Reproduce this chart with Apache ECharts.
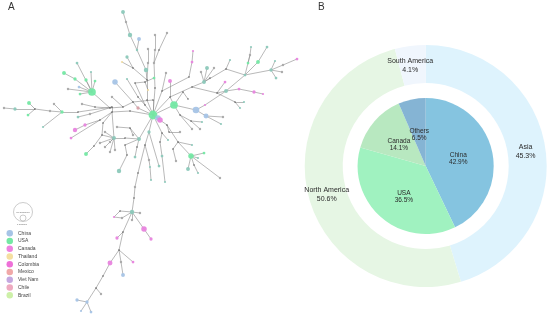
<!DOCTYPE html>
<html><head><meta charset="utf-8">
<style>html,body{margin:0;padding:0;background:#fff}#c{width:550px;height:318px}</style>
<script src="https://cdn.jsdelivr.net/npm/echarts@6/dist/echarts.min.js"></script>
</head><body><div id="c"></div>
<script>
// Pie values
const countryNames = ['China','USA','Canada','Others'];
const countryValues = [42.9,36.5,14.1,6.5];
const continentNames = ['Asia','North America','South America'];
const continentValues = [45.3,50.6,4.1];
// Network legend
const legendCountries = ['China','USA','Canada','Thailand','Colombia','Mexico','Viet Nam','Chile','Brazil'];
// Network branches: "x,y,kind,size" along each chain
const branches = [
"153,115,U,8 147,100,j 147,80,j 146,70,T,4 137,50,T 130,35,T,4 126,22,g 123,12,T,3.5",
"137,50 139,39,C,3.5","153,115 155,88,j 154,63,g 155,50,g 155,35,g",
"147,80 148,63,g 148,49,g","154,63 159,50,j 167,33,g","147,80 133,68,j 127,57,T,3","133,68 122,62,Y,2",
"153,115 138,108,M,3 133,102,j 115,82,C,5","153,115 145,105,j 138,97,j 127,79,T,2",
"145,105 135,83,j 145,82,j 154,78,U,2.5","145,82 148,90,Y,2","153,115 153,100,j 133,102 123,107,j 112,97,g",
"123,107 110,108,j 95,107,j 82,104,g","110,108 92,92,U,7",
"92,92 77,63,T,2.5","92,92 75,79,U,3","75,79 64,73,U,3.5","92,92 86,80,U,3","92,92 91,72,T,2","92,92 95,81,U,2.5",
"92,92 68,89,g","92,92 79,87,C,2.5","92,92 80,94,U,2.5",
"153,115 130,111,j 112,112,j 100,120,j 85,125,A,3 75,130,A,4","100,120 71,138,A,2.5",
"112,112 112,107,j 90,114,g 78,117,T,2.5","112,107 78,112,j 62,112,U,3 50,111,g 35,109,j 15,109,T,3 4,108,g",
"35,109 29,103,U,3.5","35,109 28,115,U,2.5","62,112 54,104,g","62,112 43,127,T,2",
"112,112 114,138,T,3.5","114,138 105,132,g","114,138 102,135,j 94,146,j 86,154,U,3.5","114,138 100,143,g",
"114,138 105,147,g","114,138 110,152,g","114,138 115,150,g","114,138 110,142,g",
"114,138 125,138,j 139,139,T,3.5 153,115","112,112 103,123,j 102,135","117,127,g 130,128,j 139,139","130,128 133,135,g",
"139,139 125,145,j 127,155,j 119,171,T,4","139,139 137,147,j 135,157,T,2.5",
"153,115 149,132,T,3 145,145,j 138,173,j 135,187,g 134,198,j 132,212,T,4",
"145,145 149,160,g 150,167,T,2 151,180,T,2","149,132 159,166,T,2.5",
"132,212 120,211,j 114,217,A,2 122,218,g 132,212","132,212 140,213,g","132,212 132,220,g","132,212 144,229,A,5 151,239,A,3",
"132,212 123,232,j 117,238,A,3","123,232 119,250,j 110,263,A,4.5 103,276,j 96,288,j 87,302,C,3","96,288 101,294,g",
"87,302 77,300,C,3","87,302 81,311,C,2","87,302 91,312,C,2.5","119,250 121,262,g 123,275,C,3.5","119,250 133,262,A,2.5",
"153,115 174,105,U,7","153,115 162,91,j 166,73,g","162,91 189,77,j 192,62,A,2.5 193,51,A,2","174,105 170,97,j 170,81,A,3.5",
"153,115 170,97 192,87,j 204,82,T,3.5 226,69,j 230,60,T,2","204,82 201,72,g","204,82 207,68,T,3.5","204,82 214,68,g","204,82 210,78,j",
"192,87 217,93,j 235,102,j 244,102,T,2","235,102 240,108,T,2","217,93 225,82,A,2.5",
"217,93 226,91,T,3.5 239,89,A,2.5 254,92,A,3 263,94,A,2",
"174,105 196,110,C,6 205,105,A,2 226,91 245,75,T,2.5 250,55,g 251,47,T,2","250,55 248,63,U,2.5","226,69 245,75",
"245,75 258,62,U,3.5 267,47,T,2.5","245,75 271,70,T,3 283,65,g 297,59,A,2.5","271,70 275,61,T,2","271,70 282,72,g","271,70 276,78,T,2.5",
"174,105 183,92,j 188,99,j","196,110 206,116,C,4.5 223,117,g","206,116 221,124,T,2",
"174,105 180,115,j 191,121,j 202,122,T,2","191,121 200,129,g","180,115 192,129,g",
"153,115 167,125,j 178,142,j 191,156,U,5 204,153,U,2.5","191,156 220,178,g","191,156 188,169,T,3.5","191,156 194,165,j 198,173,T,2","191,156 198,158,T,2",
"178,142 192,145,T,2","178,142 173,149,j 176,161,g","167,125 169,132,j 180,132,g","153,115 162,133,j 168,140,T,2","162,133 160,142,j 162,156,T,2.5 165,182,T,2",
"153,115 158,118,C,5","153,115 160,120,A,5"
];
const kindColors = {C:'#a6c4e6',U:'#74e8a4',A:'#e884de',Y:'#f0dca0',M:'#d8a0a8',T:'#8cc9bb',g:'#a9a9a9',j:'#3a3a3a'};
const kindNames = {C:'China',U:'USA',A:'Canada',Y:'Thailand',M:'Mexico',T:'Mixed',g:'Unknown',j:'Junction'};
const legendColors = ['#a6c4e6','#74e8a4','#ee82e0','#f5dfa0','#ee70d8','#f0a8a8','#c4a8e0','#eeaac0','#cdf0a8'];
// Small nudges of the pie labels, kept apart from the data
const outerNudge = [[-4,1],[2,0],[-2,4]];
const innerNudge = [[-3.5,1],[2,2],[1,3],[1,5]];

const nodeIndex = new Map(), nodes = [], links = [];
const parsed = branches.map(b => b.split(' ').map(p => p.split(',')));
parsed.flat().forEach(p => {
  const key = p[0]+','+p[1];
  if (!nodeIndex.has(key)) { nodeIndex.set(key, nodes.length); nodes.push({x:+p[0],y:+p[1],k:p[2],s:p[3]}); }
  else if (p[2] && !nodes[nodeIndex.get(key)].k) { const n=nodes[nodeIndex.get(key)]; n.k=p[2]; n.s=p[3]; }
});
parsed.forEach(ch => { for (let i=1;i<ch.length;i++) links.push({source:nodeIndex.get(ch[i-1][0]+','+ch[i-1][1]),target:nodeIndex.get(ch[i][0]+','+ch[i][1])}); });
const cats = legendCountries.map((n,i)=>({name:n,itemStyle:{color:legendColors[i]}}));
const catId = n => cats.findIndex(c=>c.name===n);
const font = '"Liberation Sans", Arial, sans-serif';
const chart = echarts.init(document.getElementById('c'),null,{renderer:'canvas'});
const sharedLabel = (lh,fs) => ({show:true,position:'inside',formatter:p=>p.name+'\n'+p.value.toFixed(1)+'%',fontFamily:font,fontSize:fs,color:'#2a2a2a',lineHeight:lh});
chart.setOption({
  animation:false,
  backgroundColor:'#fff',
  grid:{left:0,right:0,top:0,bottom:0},
  xAxis:{type:'value',min:0,max:550,show:false},
  yAxis:{type:'value',min:0,max:318,inverse:true,show:false},
  legend:{show:true,orient:'vertical',padding:0,left:6.5,top:230,itemWidth:6.5,itemHeight:6.5,itemGap:1.25,icon:'circle',selectedMode:false,
    data:legendCountries,textStyle:{fontFamily:font,fontSize:5,color:'#444'}},
  graphic:[
    {type:'text',left:8,top:2,style:{text:'A',font:'10px '+font,fill:'#333'}},
    {type:'text',left:318,top:2,style:{text:'B',font:'10px '+font,fill:'#333'}},
    {type:'circle',shape:{cx:23,cy:212,r:9.5},style:{fill:'#fff',stroke:'#aaa',lineWidth:.6}},
    {type:'circle',shape:{cx:23,cy:218,r:3},style:{fill:'#fff',stroke:'#aaa',lineWidth:.6}},
    {type:'text',x:23,y:212,style:{text:'50 samples',font:'2.5px '+font,fill:'#666',align:'center',verticalAlign:'middle'}},
    {type:'text',x:22,y:224,style:{text:'1 sample',font:'2.5px '+font,fill:'#666',align:'center',verticalAlign:'middle'}}
  ],
  series:[
    {type:'graph',coordinateSystem:'cartesian2d',xAxisIndex:0,yAxisIndex:0,layout:'none',silent:true,categories:cats,
      symbol:'circle',lineStyle:{color:'#8a8a8a',width:.6,opacity:1},
      data:nodes.map(n=>{
        const size=(+n.s||(n.k==='j'?1.4:2.2))*(n.k==='j'?1:1.1), col=kindColors[n.k||'j'];
        const nm=kindNames[n.k||'j'], c=catId(nm);
        return Object.assign({value:[n.x,n.y],symbolSize:size,itemStyle:{color:col,opacity:.95}},c>=0?{category:c}:{});
      }),
      links:links,z:2},
    {type:'pie',center:[425.7,166],radius:[83,121],startAngle:90,clockwise:true,silent:true,avoidLabelOverlap:false,
      data:continentNames.map((n,i)=>({name:n,value:continentValues[i]})),
      color:['#def3fd','#e6f6e4','#f0f6fd'],label:sharedLabel(9,7),labelLine:{show:false},itemStyle:{borderWidth:0},
      labelLayout:p=>({dx:outerNudge[p.dataIndex][0],dy:outerNudge[p.dataIndex][1]})},
    {type:'pie',center:[425.7,166],radius:[0,68],startAngle:90,clockwise:true,silent:true,avoidLabelOverlap:false,
      data:countryNames.map((n,i)=>({name:n,value:countryValues[i]})),
      color:['#85c4e0','#a0f2c0','#b8e8c0','#85b4d4'],label:sharedLabel(7,6.5),labelLine:{show:false},itemStyle:{borderWidth:0},
      labelLayout:p=>({dx:innerNudge[p.dataIndex][0],dy:innerNudge[p.dataIndex][1]})}
  ]
});
</script></body></html>
